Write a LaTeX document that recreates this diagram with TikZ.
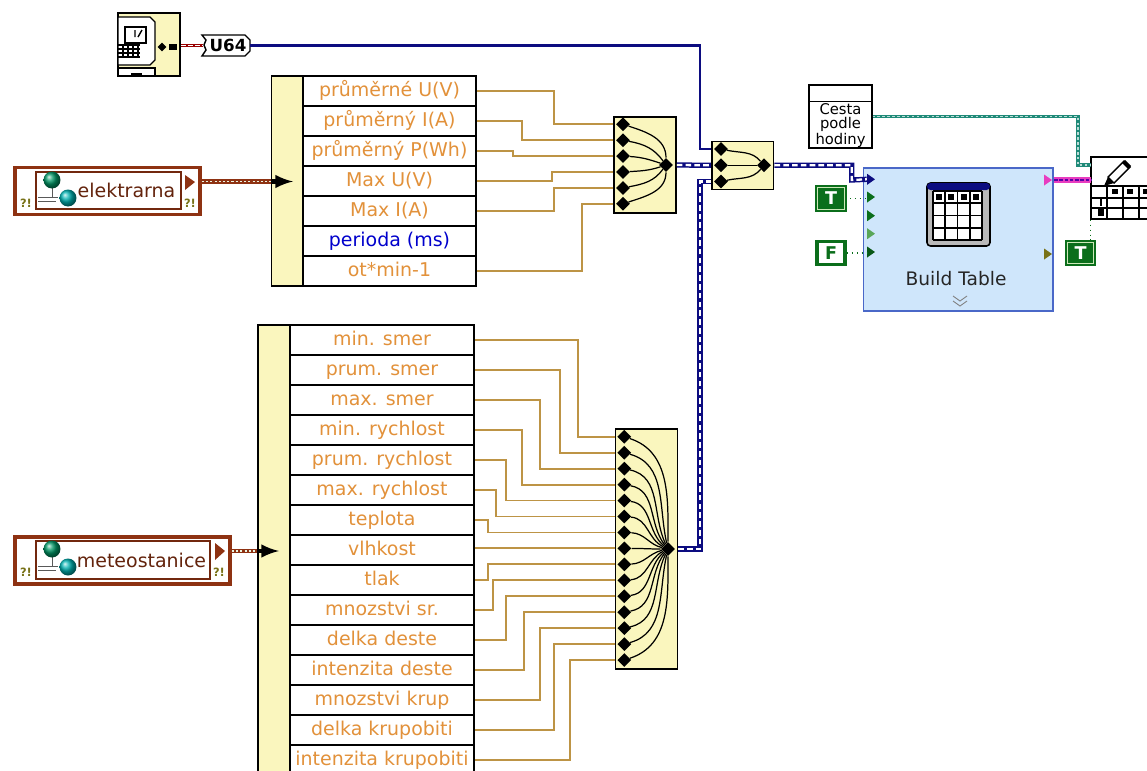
\documentclass[tikz,border=0pt]{standalone}
\usepackage{fontspec}
\setmainfont{DejaVu Sans}
\usetikzlibrary{shapes.geometric,shapes.misc}
\definecolor{clusterfill}{HTML}{FAF6BE}
\definecolor{rowtext}{HTML}{E2913A}
\definecolor{datacolor}{HTML}{BD9445}
\definecolor{navywire}{HTML}{0C0C80}
\definecolor{tealwire}{HTML}{1F8A78}
\definecolor{refbrown}{HTML}{8E3212}
\definecolor{boolgreen}{HTML}{0B6E1B}
\definecolor{boolframe}{HTML}{CDE8B8}
\definecolor{vifill}{HTML}{CFE6FB}
\definecolor{viborder}{HTML}{4A68C8}
\definecolor{pinkwire}{HTML}{E83CC0}
\tikzset{
	rowbox/.style={draw, line width=0.9pt, fill=white, inner sep=0pt, minimum height=0.6cm, text height=8.2pt, text depth=2.4pt, font=\fontsize{10.8}{12}\selectfont},
	bundlebox/.style={draw, line width=0.9pt, fill=clusterfill, inner sep=0pt},
	pinpt/.style={diamond, fill=black, inner sep=0pt, minimum size=0.28cm},
	datawire/.style={color=datacolor, line width=1.05pt},
	joinwire/.style={line width=0.7pt},
	clustwire/.style={draw=navywire, line width=3pt, postaction={draw=white, line width=1.3pt, dash pattern=on 3.2pt off 1.8pt}},
	refwire/.style={draw=refbrown, line width=2.4pt, postaction={draw=boolframe!40, line width=1pt, dash pattern=on 1.2pt off 1.2pt}},
	refbox/.style={draw=refbrown, line width=2.2pt, fill=white, inner sep=0pt},
	refname/.style={draw=refbrown!80!black, line width=0.6pt, fill=white, inner sep=0pt},
	errmark/.style={inner sep=0pt, text=olive!80!black, font=\bfseries\fontsize{6.5}{7}\selectfont},
	boolT/.style={draw=boolgreen, double=boolframe, double distance=0.7pt, line width=1pt, fill=boolgreen, text=white, inner sep=0pt, minimum width=0.53cm, minimum height=0.43cm, font=\bfseries\fontsize{10}{10}\selectfont},
	boolF/.style={draw=boolgreen, line width=2.2pt, fill=white, text=boolgreen, inner sep=0pt, minimum width=0.56cm, minimum height=0.46cm, font=\bfseries\fontsize{10}{10}\selectfont},
	termtip/.style={isosceles triangle, isosceles triangle apex angle=70, inner sep=0pt, minimum height=0.11cm, minimum width=0.22cm},
	boolwire/.style={draw=boolgreen, line width=0.8pt, dotted},
}
\newcommand{\netIcon}[2]{
	\draw [line width=0.5pt, gray!70!black]	(#1+8,#2+8) -- (#1+8,#2+18) (#1-6,#2+17) -- (#1+14,#2+17) (#1-6,#2+21) -- (#1+12,#2+21);
	\shade [ball color=teal!80!green]		(#1+8,#2) circle (0.17cm);
	\shade [ball color=teal!60!cyan]		(#1+24,#2+18) circle (0.17cm);
}
\begin{document}
\begin{tikzpicture}[x=0.02cm, y=-0.02cm]
	% Page
	\clip (0,0) rectangle (1147,771);
	\fill [white] (0,0) rectangle (1147,771);

	% Timer
	\node [draw, line width=0.9pt, fill=clusterfill, inner sep=0pt, minimum width=1.24cm, minimum height=1.26cm] (tick) at (149,44.5) {};
	\draw [fill=white, line width=0.7pt]	(118,17) -- (150,17) -- (155,22) -- (155,60) -- (150,65) -- (118,65) -- cycle;
	\draw [fill=white, line width=0.7pt]	(118,68) -- (155,68) -- (155,76) -- (118,76) -- cycle;
	\fill									(131,73) rectangle (142,76);
	\draw [line width=0.9pt]				(125,27) rectangle (146,43);
	\draw [line width=0.8pt]				(135,30) -- (135,37) (138,37) -- (142,30);
	\foreach \gy in {45,49,53,57}	\draw [line width=0.6pt] (118,\gy) -- (140,\gy);
	\foreach \gx in {123,128,133,138}	\draw [line width=0.6pt] (\gx,45) -- (\gx,57);
	\node [pinpt, minimum size=0.18cm] (tickpin) at (162,47) {};
	\fill									(169,44) rectangle (177,50);

	% Conversion
	\draw [fill=white, line width=0.8pt]	(202,35) -- (245,35) -- (250,40) -- (250,51) -- (245,56) -- (202,56) -- (206,50) -- (204,45) -- (206,40) -- cycle;
	\node [inner sep=0pt, font=\bfseries\fontsize{9.5}{10}\selectfont] (conv) at (228,45.5) {U64};
	\path (250,45.5) coordinate (convout);
	\draw [draw=red!60!black, line width=2.2pt, postaction={draw=white, line width=0.7pt, dash pattern=on 3pt off 1pt}] (tick.east |- conv) -- (203,45.5);

	% Cluster elektrarna
	\node [bundlebox, minimum width=0.64cm, minimum height=4.2cm] (estrip) at (287.5,181) {};
	\foreach \lbl/\col [count=\i] in {průměrné U(V)/rowtext, průměrný I(A)/rowtext, průměrný P(Wh)/rowtext, Max U(V)/rowtext, Max I(A)/rowtext, perioda (ms)/blue!80!black, ot*min-1/rowtext}
		\node [rowbox, minimum width=3.46cm, text=\col] (er\i) at (389.5,{61+30*\i}) {\lbl};

	% Cluster meteostanice
	\node [bundlebox, minimum width=0.64cm, minimum height=9cm] (mstrip) at (274,550) {};
	\foreach \lbl [count=\i] in {min. smer, prum. smer, max. smer, min. rychlost, prum. rychlost, max. rychlost, teplota, vlhkost, tlak, mnozstvi sr., delka deste, intenzita deste, mnozstvi krup, delka krupobiti, intenzita krupobiti}
		\node [rowbox, minimum width=3.68cm, text=rowtext] (mr\i) at (382,{310+30*\i}) {\lbl};

	% Bundle elektrarna
	\node [bundlebox, minimum width=1.24cm, minimum height=1.92cm] (abox) at (645,165) {};
	\node [pinpt] (ao) at (666,165) {};
	\foreach \i in {1,...,6}
		\node [pinpt] (ap\i) at (623,{108.4+15.9*\i}) {};
	\foreach \i in {1,...,6}{
		\pgfmathsetmacro{\ang}{180-90*(3.5-\i)/2.5}
		\pgfmathsetmacro{\st}{-18*(3.5-\i)/2.5}
		\draw [joinwire] (ap\i) to [out=\st, in=\ang] (ao);
	}
	\foreach \i/\j/\mx in {1/1/554, 2/2/522, 3/3/513, 4/4/552, 5/5/554, 7/6/582}{
		\path (\mx,0) coordinate (knee);
		\draw [datawire] (er\i.east) -- (er\i.east -| knee) -- (knee |- ap\j) -- (ap\j -| abox.west);
	}

	% Bundle meteostanice
	\node [bundlebox, minimum width=1.24cm, minimum height=4.8cm] (bbox) at (646.5,549) {};
	\node [pinpt] (bo) at (668,549) {};
	\foreach \i in {1,...,15}
		\node [pinpt] (bp\i) at (624.3,{420.8+15.95*\i}) {};
	\foreach \i in {1,...,15}{
		\pgfmathsetmacro{\ang}{180-90*(8-\i)/7}
		\pgfmathsetmacro{\st}{-18*(8-\i)/7}
		\draw [joinwire] (bp\i) to [out=\st, in=\ang] (bo);
	}
	\foreach \i/\mx in {1/578, 2/560, 3/540, 4/522, 5/506, 6/496, 7/488, 9/488, 10/493, 11/506, 12/524, 13/540, 14/554, 15/570}{
		\path (\mx,0) coordinate (knee);
		\draw [datawire] (mr\i.east) -- (mr\i.east -| knee) -- (knee |- bp\i) -- (bp\i -| bbox.west);
	}
	\draw [datawire] (bp8 -| mr8.east) -- (bp8 -| bbox.west);

	% Bundle final
	\node [bundlebox, minimum width=1.24cm, minimum height=0.96cm] (mbox) at (742.7,165.3) {};
	\node [pinpt] (mp1) at (721,149) {};
	\node [pinpt] (mp2) at (721,165.3) {};
	\node [pinpt] (mp3) at (721,181.5) {};
	\node [pinpt] (mo)  at (764,165.3) {};
	\draw [joinwire] (mp1) to [out=-12, in=130] (mo);
	\draw [joinwire] (mp2) -- (mo);
	\draw [joinwire] (mp3) to [out=12, in=230] (mo);
	\path (700,0) coordinate (jn);
	\draw [navywire, line width=1.2pt] (convout) -- (convout -| jn) -- (jn |- mp1) -- (mp1 -| mbox.west);
	\draw [clustwire] (abox.east) -- (mbox.west);
	\draw [clustwire] (bbox.east) -- (bbox.east -| jn) -- (jn |- mp3) -- (mp3 -| mbox.west);

	% Reference elektrarna
	\node [refbox, minimum width=3.7cm, minimum height=0.94cm] (eref) at (107.5,191) {};
	\node [refname, minimum width=2.9cm, minimum height=0.74cm] (ename) at (108.5,190.5) {};
	\netIcon{44}{180}
	\node [inner sep=0pt, text=refbrown!70!black, font=\fontsize{10.8}{12}\selectfont] (etxt) at (126.5,190) {elektrarna};
	\fill [refbrown]						(185,175) -- (195,182) -- (185,190) -- cycle;
	\node [errmark] (ee1) at (26,203) {?!};
	\node [errmark] (ee2) at (190,203) {?!};
	\path (eref.east |- 0,181.5) coordinate (eout);
	\draw [refwire] (eout) -- (eout -| estrip.west);
	\draw [-latex, line width=2.4pt] (eout -| estrip.west) -- (293,181.5);

	% Reference meteostanice
	\node [refbox, minimum width=4.3cm, minimum height=0.94cm] (mref) at (122.5,560.5) {};
	\node [refname, minimum width=3.48cm, minimum height=0.76cm] (mname) at (123,560) {};
	\netIcon{44}{549}
	\node [inner sep=0pt, text=refbrown!70!black, font=\fontsize{10.8}{12}\selectfont] (mtxt) at (141.5,560) {meteostanice};
	\fill [refbrown]						(215,543) -- (225,551) -- (215,560) -- cycle;
	\node [errmark] (me1) at (26,572) {?!};
	\node [errmark] (me2) at (219,572) {?!};
	\path (mref.east |- 0,551) coordinate (mout);
	\draw [refwire] (mout) -- (mout -| mstrip.west);
	\draw [-latex, line width=2.4pt] (mout -| mstrip.west) -- (279,551);

	% Path constant
	\node [draw, line width=0.9pt, fill=white, inner sep=0pt, minimum width=1.25cm, minimum height=1.26cm] (cesta) at (840.5,116.5) {};
	\draw [line width=0.9pt]				(cesta.west |- 0,101.5) -- (cesta.east |- 0,101.5);
	\node [inner sep=0pt, align=center, font=\fontsize{8.4}{8}\selectfont] (cestatxt) at (840.5,126) {Cesta\\podle\\hodiny};

	% Build Table
	\node [draw=viborder, line width=0.9pt, fill=vifill, inner sep=0pt, minimum width=3.8cm, minimum height=2.86cm] (vi) at (958.3,239.7) {};
	\foreach \iy/\col [count=\i] in {179.3/navywire, 197/boolgreen, 215.7/boolgreen, 233.7/gray!70!green, 252/boolgreen!80!black}
		\node [termtip, fill=\col] (in\i) at (870,\iy) {};
	\node [termtip, fill=pinkwire] (outa) at (1047,180) {};
	\node [termtip, fill=olive!80!black] (outb) at (1047,254) {};
	\draw [line width=0.9pt, fill=gray!55, rounded corners=2pt] (927,183) rectangle (990,246);
	\fill [navywire, rounded corners=2pt]	(927,183) rectangle (990,190);
	\fill [white]							(933,191) rectangle (982,240);
	\foreach \gx in {933,945.25,957.5,969.75,982}	\draw [line width=1pt] (\gx,191) -- (\gx,240);
	\foreach \gy in {191,203.25,215.5,227.75,240}	\draw [line width=1pt] (933,\gy) -- (982,\gy);
	\foreach \gx in {936,948,961,973}		\fill (\gx,194) rectangle ++(6,6);
	\node [inner sep=0pt, text=black!85, font=\fontsize{10.6}{12}\selectfont] (vitxt) at (956,279) {Build Table};
	\draw [gray, line width=0.5pt]			(953,296) -- (960,301) -- (967,296) (953,301) -- (960,306) -- (967,301);

	% Constants
	\node [boolT] (ta) at (831,198.5) {T};
	\node [boolF] (fa) at (831,253) {F};
	\node [boolT] (tb) at (1080.5,253) {T};
	\draw [boolwire] (ta.east) -- (in2.west |- ta.east);
	\draw [boolwire] (fa.east) -- (in5.west |- fa.east);

	% Write Table
	\node [draw, line width=0.9pt, fill=white, inner sep=0pt, minimum width=1.56cm, minimum height=1.24cm] (wt) at (1130,188) {};
	\draw [line width=0.9pt]				(wt.west |- 0,186) -- (wt.east |- 0,186);
	\draw [line width=0.9pt]				(1107,186) -- (1107,219);
	\foreach \gx in {1123,1139}	\draw [line width=0.8pt] (\gx,186) -- (\gx,219);
	\foreach \gy in {198,208}	\draw [line width=0.6pt] (1091,\gy) -- (1147,\gy);
	\draw [line width=0.8pt, fill=white]	(1108,177) -- (1124,161) -- (1130,167) -- (1114,183) -- cycle;
	\fill									(1122,163) -- (1125,160) -- (1131,166) -- (1128,169) -- cycle;
	\fill									(1104,186) -- (1108,177) -- (1114,183) -- cycle;
	\foreach \gx in {1112,1127,1143}		\fill (\gx,189) rectangle ++(6,5);
	\fill									(1100,199) rectangle (1102,206);
	\fill									(1098,209) rectangle (1104,216);
	\path (1091,180) coordinate (wtin);
	\path (1091,165) coordinate (wtpath);

	% Output wires
	\draw [clustwire] (mbox.east) -- (851.7,165.3) -- (851.7,180) -- (in1.west);
	\path (1078,0) coordinate (tk);
	\draw [draw=tealwire, line width=2.2pt, postaction={draw=tealwire!30, line width=0.7pt, dash pattern=on 1.4pt off 1.4pt}] (cesta.east |- 0,116.5) -- (tk |- 0,116.5) -- (tk |- wtpath) -- (wtpath);
	\draw [draw=pinkwire, line width=3pt, postaction={draw=violet!70!blue, line width=1.3pt, dash pattern=on 2pt off 1pt}] (vi.east |- wtin) -- (wtin);
	\draw [boolwire] (wt.south west) -- (wt.south west |- tb.north);
\end{tikzpicture}
\end{document}
